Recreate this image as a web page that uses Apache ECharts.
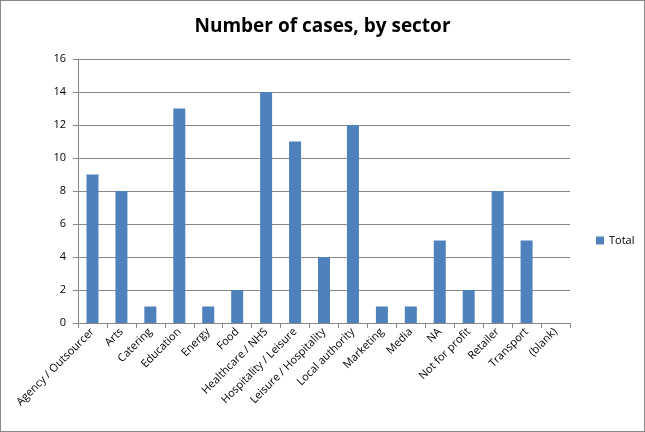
<!DOCTYPE html>
<html><head><meta charset="utf-8">
<script src="https://cdn.jsdelivr.net/npm/echarts@6/dist/echarts.min.js"></script>
<style>html,body{margin:0;padding:0;background:#fff}#c{width:645px;height:432px;box-sizing:border-box;border:1px solid #898989}</style>
</head><body><div id="c"></div>
<script>
const categories = ["Agency / Outsourcer","Arts","Catering","Education","Energy","Food","Healthcare / NHS","Hospitality / Leisure","Leisure / Hospitality","Local authority","Marketing","Media","NA","Not for profit","Retailer","Transport","(blank)"];
const totals = [9,8,1,13,1,2,14,11,4,12,1,1,5,2,8,5,null];
const yTicks = [0,2,4,6,8,10,12,14,16];
const chart = echarts.init(document.getElementById('c'));
const font = "'Open Sans', 'Noto Sans', sans-serif";
chart.setOption({
  animation:false,
  textStyle:{fontFamily:font},
  title:{text:"Number of cases, by sector",left:'center',top:11,textStyle:{fontFamily:font,fontSize:19,fontWeight:'bold',color:'#000'}},
  legend:{data:['Total'],orient:'vertical',left:590,top:229,itemWidth:8,itemHeight:8,itemGap:4,icon:'rect',textStyle:{fontFamily:font,fontSize:11,color:'#000'}},
  grid:{left:77,right:74,top:58,bottom:108,containLabel:false},
  xAxis:{type:'category',data:categories,boundaryGap:true,
    axisLine:{lineStyle:{color:'#868686'}},
    axisTick:{show:true,alignWithLabel:false,length:5,lineStyle:{color:'#868686'}},
    axisLabel:{rotate:45,interval:0,fontSize:11,color:'#000',margin:7,fontFamily:font}},
  yAxis:{type:'value',min:yTicks[0],max:yTicks[yTicks.length-1],interval:2,
    axisLine:{show:true,lineStyle:{color:'#868686'}},
    axisTick:{show:true,length:5,lineStyle:{color:'#868686'}},
    splitLine:{lineStyle:{color:'#868686'}},
    axisLabel:{fontSize:11,color:'#000',margin:12,fontFamily:font}},
  series:[{name:'Total',type:'bar',data:totals,barWidth:12,itemStyle:{color:'#4f81bd'}}]
});
</script></body></html>
